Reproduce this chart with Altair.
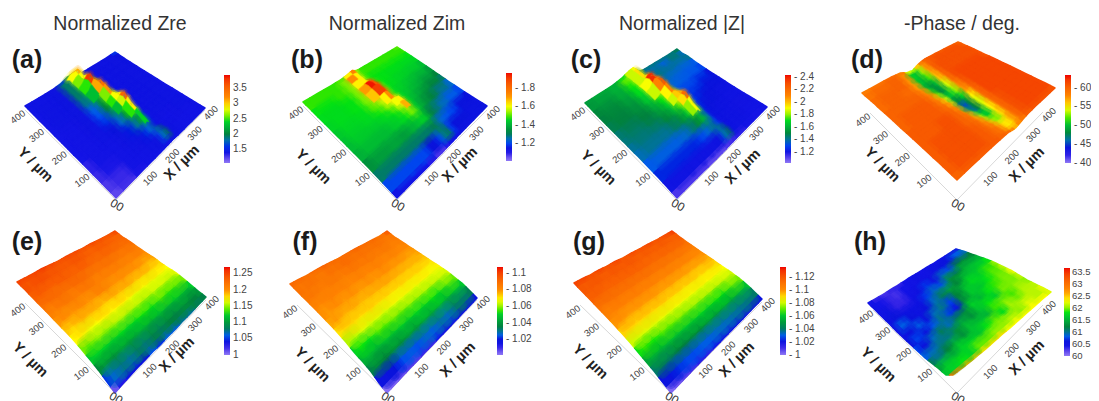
import altair as alt

X_A = [0,60,120,160,190,210,225,240,255,270,290,320,360,400]
Y_A = [400,375,350,320,290,250,225,200,170,120,80,40,0]
X_E = [0,33,67,100,133,167,200,233,267,300,333,367,400]
Y_E = [400,367,333,300,267,233,200,167,133,100,67,33,0]

Z_A = [
[1.42,1.42,1.45,1.6,1.95,2.0,1.7,1.5,1.42,1.42,1.45,1.45,1.48,1.6],
[1.42,1.42,1.5,1.9,2.85,3.1,1.7,1.45,1.42,1.42,1.42,1.42,1.45,1.55],
[1.4,1.42,1.5,1.9,2.6,2.85,1.8,1.45,1.42,1.42,1.42,1.42,1.45,1.5],
[1.4,1.42,1.5,1.9,2.5,3.75,2.5,1.45,1.42,1.42,1.42,1.42,1.45,1.48],
[1.4,1.42,1.48,1.85,2.3,3.1,3.4,1.5,1.42,1.42,1.42,1.42,1.44,1.46],
[1.38,1.4,1.46,1.7,2.1,2.6,3.15,2.3,1.45,1.42,1.42,1.42,1.42,1.44],
[1.38,1.4,1.45,1.65,2.0,2.5,2.85,2.9,1.5,1.42,1.42,1.42,1.42,1.44],
[1.36,1.38,1.42,1.6,1.85,2.3,2.75,3.5,1.6,1.42,1.42,1.42,1.42,1.42],
[1.35,1.38,1.42,1.55,1.75,2.1,2.5,2.9,1.55,1.42,1.42,1.42,1.42,1.42],
[1.32,1.36,1.4,1.48,1.58,1.8,2.1,2.4,1.6,1.42,1.42,1.42,1.42,1.42],
[1.3,1.34,1.38,1.42,1.48,1.58,1.7,1.8,1.5,1.42,1.4,1.4,1.42,1.42],
[1.26,1.3,1.36,1.4,1.42,1.45,1.5,1.7,1.95,1.5,1.42,1.4,1.4,1.42],
[1.22,1.28,1.34,1.36,1.38,1.4,1.42,1.42,1.45,1.42,1.4,1.4,1.4,1.42],
]
Z_B = [
[1.49,1.49,1.49,1.5,1.62,1.75,1.52,1.49,1.49,1.49,1.49,1.49,1.49,1.5],
[1.49,1.49,1.49,1.52,1.72,1.62,1.5,1.49,1.49,1.49,1.49,1.49,1.49,1.49],
[1.48,1.48,1.49,1.52,1.62,1.62,1.5,1.48,1.48,1.48,1.48,1.48,1.48,1.48],
[1.47,1.47,1.48,1.52,1.7,1.95,1.85,1.49,1.48,1.48,1.47,1.47,1.46,1.46],
[1.46,1.47,1.48,1.52,1.66,1.9,1.9,1.52,1.47,1.47,1.46,1.45,1.44,1.42],
[1.44,1.46,1.47,1.5,1.55,1.62,1.72,1.5,1.46,1.45,1.44,1.42,1.4,1.37],
[1.43,1.45,1.46,1.48,1.52,1.56,1.6,1.62,1.46,1.44,1.42,1.4,1.36,1.33],
[1.42,1.44,1.44,1.46,1.48,1.52,1.58,1.68,1.47,1.42,1.4,1.36,1.32,1.29],
[1.4,1.42,1.42,1.44,1.46,1.48,1.52,1.52,1.44,1.4,1.36,1.32,1.27,1.24],
[1.35,1.37,1.38,1.37,1.4,1.42,1.44,1.46,1.4,1.32,1.29,1.25,1.22,1.2],
[1.29,1.29,1.29,1.29,1.29,1.29,1.29,1.31,1.29,1.24,1.22,1.2,1.18,1.18],
[1.2,1.2,1.2,1.2,1.18,1.18,1.2,1.26,1.33,1.2,1.18,1.17,1.16,1.16],
[1.13,1.13,1.11,1.1,1.08,1.08,1.1,1.11,1.12,1.13,1.14,1.14,1.15,1.16],
]
Z_C = [
[1.55,1.58,1.6,1.7,1.85,1.9,1.6,1.45,1.42,1.42,1.42,1.42,1.42,1.45],
[1.54,1.56,1.6,1.75,1.85,1.95,1.55,1.4,1.4,1.38,1.4,1.35,1.42,1.38],
[1.5,1.52,1.58,1.72,1.85,1.95,1.6,1.4,1.36,1.42,1.4,1.4,1.38,1.4],
[1.48,1.5,1.55,1.7,1.9,2.38,2.0,1.45,1.38,1.38,1.36,1.35,1.34,1.33],
[1.46,1.48,1.52,1.65,1.85,2.1,2.25,1.45,1.36,1.35,1.34,1.33,1.32,1.3],
[1.43,1.45,1.48,1.58,1.72,1.92,2.1,1.75,1.35,1.32,1.3,1.3,1.28,1.27],
[1.42,1.43,1.46,1.54,1.66,1.85,1.98,2.02,1.35,1.3,1.29,1.28,1.27,1.26],
[1.4,1.42,1.43,1.5,1.6,1.75,1.95,2.2,1.45,1.3,1.28,1.26,1.25,1.24],
[1.38,1.4,1.4,1.44,1.52,1.65,1.8,1.9,1.4,1.28,1.26,1.25,1.23,1.22],
[1.33,1.34,1.34,1.36,1.42,1.5,1.58,1.65,1.35,1.25,1.24,1.22,1.2,1.2],
[1.28,1.28,1.28,1.28,1.3,1.34,1.38,1.42,1.32,1.23,1.22,1.2,1.19,1.19],
[1.2,1.2,1.2,1.2,1.2,1.22,1.24,1.36,1.45,1.25,1.2,1.2,1.18,1.18],
[1.12,1.12,1.12,1.1,1.1,1.1,1.12,1.13,1.14,1.15,1.15,1.16,1.16,1.17],
]
Z_D = [
[58.5,59,59.5,58.5,54,53,56,58.5,60,60.5,60.5,60.5,60.5,60],
[59,59.5,60,57.5,51,50,53,57,60,60.5,61,61,61,60.5],
[59.5,60,60,57,50.5,49.5,52,56.5,60,61,61,61,61,61],
[59.5,60,59.5,57,50,48,50,56,59.5,61,61,61,61,61],
[60,60,60,58,52,47.5,49,54,59,61,61.5,61.5,61.5,61],
[60,60.5,60.5,58.5,54,50,50.5,53,58,60.5,61.5,61.5,61.5,61.5],
[60,60.5,60.5,59,55,48.5,47.5,51,57,60,61.5,61.5,61.5,61.5],
[60.5,60.5,60.5,59.5,56,47,44.5,48,55,59.5,61.5,61.5,61.5,61.5],
[60.5,60.5,61,60,57,50,46,47.5,54,59.5,61.5,61.5,61.5,61.5],
[60.5,61,61,60,58.5,54,50.5,50.5,55,59.5,61,61.5,61.5,61.5],
[60.5,61,61,60.5,59,56.5,53,52.5,55.5,59.5,61,61.5,61.5,61.5],
[60.5,61,61,60.5,59.5,58,55.5,55,56.5,59.5,61,61.5,61.5,61.5],
[60,60.5,60.5,60.5,60,59.5,57.5,56.5,57.5,59,60.5,61,61,61],
]
Z_E = [
[1.25,1.25,1.25,1.255,1.25,1.245,1.25,1.25,1.245,1.25,1.245,1.245,1.25],
[1.245,1.24,1.245,1.24,1.24,1.235,1.24,1.24,1.23,1.235,1.235,1.23,1.23],
[1.23,1.235,1.225,1.23,1.235,1.225,1.23,1.225,1.22,1.225,1.22,1.22,1.225],
[1.22,1.22,1.225,1.215,1.22,1.225,1.215,1.21,1.22,1.215,1.21,1.215,1.21],
[1.21,1.205,1.215,1.21,1.205,1.215,1.205,1.21,1.2,1.21,1.2,1.205,1.2],
[1.195,1.2,1.195,1.205,1.195,1.2,1.21,1.195,1.2,1.195,1.2,1.19,1.195],
[1.185,1.18,1.19,1.185,1.19,1.18,1.19,1.185,1.19,1.18,1.185,1.18,1.18],
[1.17,1.175,1.165,1.17,1.175,1.17,1.175,1.17,1.165,1.17,1.165,1.17,1.17],
[1.145,1.14,1.15,1.145,1.15,1.155,1.15,1.155,1.15,1.155,1.16,1.155,1.165],
[1.12,1.125,1.125,1.12,1.13,1.125,1.13,1.135,1.13,1.14,1.135,1.14,1.145],
[1.09,1.1,1.095,1.105,1.1,1.105,1.11,1.105,1.115,1.11,1.12,1.115,1.125],
[1.05,1.065,1.075,1.07,1.08,1.075,1.085,1.08,1.09,1.085,1.095,1.09,1.1],
[1.01,1.025,1.035,1.045,1.045,1.055,1.05,1.06,1.06,1.07,1.07,1.08,1.085],
]
Z_F = [
[1.09,1.09,1.088,1.09,1.092,1.09,1.088,1.09,1.092,1.09,1.09,1.088,1.095],
[1.088,1.086,1.088,1.084,1.088,1.086,1.09,1.086,1.088,1.086,1.088,1.085,1.086],
[1.085,1.086,1.082,1.085,1.084,1.082,1.085,1.083,1.085,1.082,1.084,1.082,1.084],
[1.083,1.08,1.083,1.08,1.082,1.08,1.082,1.079,1.083,1.08,1.082,1.08,1.08],
[1.08,1.078,1.08,1.077,1.08,1.076,1.079,1.077,1.08,1.077,1.078,1.076,1.078],
[1.076,1.078,1.074,1.077,1.073,1.076,1.074,1.077,1.074,1.075,1.073,1.075,1.074],
[1.07,1.072,1.072,1.07,1.073,1.07,1.072,1.069,1.072,1.07,1.072,1.07,1.071],
[1.062,1.062,1.066,1.064,1.066,1.064,1.067,1.066,1.067,1.066,1.068,1.067,1.069],
[1.05,1.054,1.052,1.056,1.055,1.058,1.056,1.059,1.058,1.061,1.06,1.063,1.065],
[1.044,1.046,1.044,1.048,1.046,1.05,1.048,1.052,1.05,1.054,1.052,1.057,1.057],
[1.034,1.038,1.036,1.04,1.038,1.042,1.04,1.044,1.042,1.046,1.044,1.049,1.049],
[1.014,1.018,1.02,1.023,1.025,1.023,1.027,1.025,1.029,1.027,1.032,1.032,1.034],
[1.002,1.004,1.006,1.008,1.008,1.01,1.01,1.012,1.012,1.014,1.015,1.016,1.018],
]
Z_G = [
[1.125,1.125,1.122,1.125,1.122,1.125,1.12,1.124,1.122,1.125,1.122,1.125,1.128],
[1.12,1.118,1.12,1.116,1.12,1.117,1.12,1.116,1.118,1.116,1.118,1.116,1.118],
[1.115,1.116,1.112,1.115,1.112,1.115,1.112,1.114,1.11,1.113,1.11,1.112,1.11],
[1.11,1.108,1.11,1.107,1.11,1.106,1.109,1.106,1.108,1.105,1.107,1.104,1.105],
[1.105,1.103,1.104,1.102,1.104,1.101,1.103,1.1,1.103,1.1,1.102,1.1,1.1],
[1.098,1.099,1.096,1.098,1.096,1.098,1.095,1.097,1.095,1.097,1.094,1.096,1.095],
[1.09,1.091,1.089,1.091,1.089,1.091,1.089,1.09,1.088,1.09,1.088,1.09,1.09],
[1.08,1.08,1.082,1.081,1.083,1.082,1.084,1.083,1.084,1.083,1.085,1.084,1.085],
[1.066,1.068,1.067,1.07,1.069,1.072,1.071,1.074,1.073,1.076,1.075,1.079,1.08],
[1.052,1.055,1.054,1.058,1.057,1.061,1.06,1.064,1.062,1.067,1.065,1.071,1.072],
[1.039,1.041,1.04,1.044,1.043,1.047,1.046,1.051,1.049,1.054,1.052,1.058,1.059],
[1.02,1.023,1.025,1.027,1.027,1.03,1.03,1.033,1.033,1.035,1.036,1.038,1.04],
[1.002,1.005,1.008,1.01,1.012,1.012,1.014,1.015,1.016,1.017,1.018,1.02,1.022],
]
Z_H = [
[60.35,60.3,60.25,60.3,60.3,60.35,60.4,60.35,60.4,60.35,60.4,60.45,60.5],
[60.4,60.35,60.3,60.25,60.35,60.4,60.45,60.4,60.5,60.55,60.6,60.8,60.9],
[60.4,60.5,60.3,60.3,60.4,60.5,60.7,60.5,60.9,60.8,61.2,61.2,61.2],
[60.45,60.6,60.5,60.45,60.5,60.7,60.9,60.8,61.3,61.2,61.5,61.5,61.5],
[60.4,60.8,60.6,60.5,60.6,60.9,61.1,61.4,61.2,61.6,61.6,61.7,61.8],
[60.5,60.6,60.8,60.6,60.9,61.0,60.7,61.2,61.6,61.75,61.7,61.85,62.0],
[60.6,60.7,60.6,60.8,61.0,60.7,60.6,61.3,61.65,61.6,61.8,61.9,62.1],
[60.7,60.6,60.9,61.1,60.9,61.1,61.3,61.7,61.5,61.8,61.85,61.95,62.2],
[60.8,60.9,61.0,61.0,61.3,61.5,61.3,61.6,61.8,61.65,61.95,61.95,62.1],
[61.1,61.0,61.2,61.5,61.3,61.6,61.6,61.5,61.85,61.95,61.85,62.05,62.0],
[61.4,61.6,61.5,61.7,61.7,61.6,61.8,61.9,61.75,62.05,61.95,62.1,62.1],
[61.6,61.7,61.8,61.7,61.9,61.9,62.0,62.0,62.1,62.0,62.2,62.1,62.2],
[63.0,62.8,62.6,62.5,62.4,62.4,62.4,62.3,62.3,62.3,62.3,62.3,62.2],
]

TITLES = [("Normalized Zre",120),("Normalized Zim",397),("Normalized |Z|",682),("-Phase / deg.",962)]
STOPS = [0,.1,.18,.33,.5,.63,.74,1]
COLORS = ["#8f78f5","#1414e6","#0a14dc","#00823c","#0ce60c","#ffff00","#ff8c00","#f00000"]
AXIS_LABELS = ["100","200","300","400"]

# blur: list of (stroke opacity, stroke width, reversed order); top: readings from here up are redrawn crisp
PANELS = [
 dict(t="(a)",tp=(27,60),z=Z_A,xs=X_A,ys=Y_A,c=[(25,106),(116,198),(205,108),(115,52)],k=8,blur=[(.2,8,False),(.25,5,False)],top=2.3,
      ax=[(25,110),(116,200),(205,110)],bar=(224,75,1.06,3.92),ticks=[1.5,2,2.5,3,3.5],dash=False,lt=(35,165),rt=(182,163)),
 dict(t="(b)",tp=(307,60),z=Z_B,xs=X_A,ys=Y_A,c=[(303,102),(397,198),(487,106),(397,47)],k=10,blur=[(.2,8,False),(.25,5,False)],top=1.6,
      ax=[(303,106),(397,200),(487,110)],bar=(506,73,1.01,1.96),ticks=[1.2,1.4,1.6,1.8],dash=True,lt=(313,167),rt=(460,165)),
 dict(t="(c)",tp=(586,60),z=Z_C,xs=X_A,ys=Y_A,c=[(585,103),(677,198),(767,107),(677,49)],k=17,blur=[(.2,8,False),(.25,5,False)],top=1.8,
      ax=[(585,107),(677,200),(767,110)],bar=(785,75,1.02,2.43),ticks=[1.2,1.4,1.6,1.8,2,2.2,2.4],dash=True,lt=(598,168),rt=(743,167)),
 dict(t="(d)",tp=(867,60),z=Z_D,xs=X_A,ys=Y_A,c=[(862,93),(957,180),(1055,88),(958,42)],k=.7,blur=[(.2,6,False),(.25,4,False)],top=99,
      ax=[(870,113),(957,200),(1043,112)],bar=(1065,75,39.9,63.4),ticks=[40,45,50,55,60],dash=True,lt=(882,165),rt=(1027,165)),
 dict(t="(e)",tp=(27,242),z=Z_E,xs=X_E,ys=Y_E,c=[(17,282),(115,393),(206,297),(115,231)],k=100,blur=[(.22,10,False),(.28,6,False),(.15,10,True)],top=99,
      ax=[(25,303),(115,393),(206,300)],bar=(224,267,.999,1.27),ticks=[1,1.05,1.1,1.15,1.2,1.25],dash=False,lt=(30,360),rt=(177,355)),
 dict(t="(f)",tp=(305,242),z=Z_F,xs=X_E,ys=Y_E,c=[(290,284),(387,393),(477,298),(387,231)],k=200,blur=[(.22,10,False),(.28,6,False),(.15,10,True)],top=99,
      ax=[(297,305),(387,393),(477,300)],bar=(497,267,1.001,1.107),ticks=[1.02,1.04,1.06,1.08,1.1],dash=True,lt=(312,365),rt=(458,360)),
 dict(t="(g)",tp=(589,242),z=Z_G,xs=X_E,ys=Y_E,c=[(574,283),(671,393),(762,299),(672,231)],k=150,blur=[(.22,10,False),(.28,6,False),(.15,10,True)],top=99,
      ax=[(580,305),(671,393),(762,302)],bar=(780,267,.9995,1.135),ticks=[1,1.02,1.04,1.06,1.08,1.1,1.12],dash=True,lt=(590,362),rt=(737,360)),
 dict(t="(h)",tp=(870,242),z=Z_H,xs=X_E,ys=Y_E,c=[(868,303),(953,375),(1051,292),(956,249)],k=5,blur=[(.2,8,False),(.25,5,False)],top=99,
      ax=[(873,310),(957,393),(1043,305)],bar=(1064,268,59.98,63.65),ticks=[60,60.5,61,61.5,62,62.5,63,63.5],dash=False,lt=(878,365),rt=(1027,358),lab=(9.5,2)),
]
OFF = 8

def node_points(p):
    L,B,R,T = p["c"]
    z = p["z"]; xs = p["xs"]; ys = p["ys"]
    zB, zR, zL, zT = z[-1][0], z[-1][-1], z[0][0], z[0][-1]
    pts = []
    for r,yv in enumerate(ys):
        row = []
        for c,xv in enumerate(xs):
            a = xv/400; b = yv/400
            w = [(1-a)*(1-b), a*(1-b), (1-a)*b, a*b]
            px = w[0]*B[0]+w[1]*R[0]+w[2]*L[0]+w[3]*T[0]
            py = w[0]*B[1]+w[1]*R[1]+w[2]*L[1]+w[3]*T[1]
            plane = w[0]*zB+w[1]*zR+w[2]*zL+w[3]*zT
            py -= p["k"]*(z[r][c]-plane)
            row.append((px-OFF,py-OFF))
        pts.append(row)
    return pts

def mean(*q):
    return (round(sum(a[0] for a in q)/len(q),2),round(sum(a[1] for a in q)/len(q),2))

def node_quads(pts,r,c):
    nr,nc = len(pts),len(pts[0]); n = pts[r][c]; quads = []
    for dr in (-1,1):
        for dc in (-1,1):
            rr,cc = r+dr,c+dc
            if not(0<=rr<nr and 0<=cc<nc):
                continue
            e1 = mean(n,pts[rr][c]); e2 = mean(n,pts[r][cc]); m = mean(n,pts[rr][c],pts[r][cc],pts[rr][cc])
            np_ = mean(n)
            quads.append([[np_,e1,m,e2,np_]])
    return quads

def surface_layer(p):
    pts = node_points(p); z = p["z"]
    nr,nc = len(z),len(z[0])
    base = []
    for r in range(nr):
        for c in range(nc):
            base.append({"type":"Feature","geometry":{"type":"MultiPolygon","coordinates":node_quads(pts,r,c)},
                         "properties":{"v":z[r][c]},"o":r-c,"inner":0<r<nr-1 and 0<c<nc-1})
    base.sort(key=lambda d:d["o"])
    def with_style(f,fo,so,sw):
        g = dict(f); g["properties"] = dict(f["properties"],fo=fo,so=so,sw=sw); return g
    cells = [with_style(f,1,1,1.5) for f in base]
    inner = [f for f in base if f["inner"]]
    for so,sw,rev in p["blur"]:
        cells += [with_style(f,0,so,sw) for f in (reversed(inner) if rev else inner)]
    cells += [with_style(f,1,.7,1.5) for f in base if f["properties"]["v"]>=p["top"]]
    bx,by,lo,hi = p["bar"]
    dom = [lo+s*(hi-lo) for s in STOPS]
    dom2 = dom[:-1]+[hi+1e-7]
    prefix = "'- '+" if p["dash"] else "''+"
    size,offset = p.get("lab",(10,3))
    legend = alt.Legend(type="gradient",orient="none",legendX=bx-OFF,legendY=by-OFF,title=None,gradientLength=88,gradientThickness=6,
                        values=p["ticks"],labelFontSize=size,labelColor="#444",labelFont="Liberation Sans",labelOffset=offset,
                        padding=0,gradientStrokeWidth=0,labelOverlap=False,
                        labelExpr=prefix+"datum.value")
    return alt.Chart(alt.Data(values=cells)).mark_geoshape(strokeJoin="round").encode(
        color=alt.Color("properties.v:Q",scale=alt.Scale(domain=dom,range=COLORS,clamp=True),legend=legend),
        stroke=alt.Stroke("properties.v:Q",scale=alt.Scale(domain=dom2,range=COLORS,clamp=True),legend=None),
        fillOpacity=alt.FillOpacity("properties.fo:Q",scale=None),
        strokeOpacity=alt.StrokeOpacity("properties.so:Q",scale=None),
        strokeWidth=alt.StrokeWidth("properties.sw:Q",scale=None),
    ).project(type="identity",scale=1,translate=[0,0],reflectY=False)

def text_rows():
    ticks=[];zeros=[];atitles=[];letters=[];frame=[]
    for p in PANELS:
        L,O,R = p["ax"]
        for i,lab in enumerate(AXIS_LABELS):
            f=(i+1)/4
            dx,dy = (-11,3) if i<3 else (-7,7)
            ticks.append(dict(x=O[0]+f*(L[0]-O[0])+dx-OFF,y=O[1]+f*(L[1]-O[1])+dy-OFF,s=lab,a=322))
            ticks.append(dict(x=O[0]+f*(R[0]-O[0])+(12 if i<3 else 6)-OFF,y=O[1]+f*(R[1]-O[1])+(1 if i<3 else 3)-OFF,s=lab,a=315))
        zeros.append(dict(x=O[0]+1-OFF,y=O[1]+5-OFF,s="00",a=30))
        atitles.append(dict(x=p["lt"][0]-OFF,y=p["lt"][1]-OFF,s="Y / µm",a=45))
        atitles.append(dict(x=p["rt"][0]-OFF,y=p["rt"][1]-OFF,s="X / µm",a=315))
        letters.append(dict(x=p["tp"][0]-OFF,y=p["tp"][1]-OFF,s=p["t"],a=0))
        frame.append(dict(x=L[0]-OFF,y=L[1]-OFF,x2=O[0]-OFF,y2=O[1]-OFF))
        frame.append(dict(x=O[0]-OFF,y=O[1]-OFF,x2=R[0]-OFF,y2=R[1]-OFF))
    return ticks,zeros,atitles,letters,frame

ticks,zeros,atitles,letters,frame = text_rows()
titles = [dict(x=x-OFF,y=24-OFF,s=s,a=0) for s,x in TITLES]

XS = alt.Scale(domain=[0,1083]); YS = alt.Scale(domain=[393,0])
def text_layer(rows,size,color,weight="normal"):
    return alt.Chart(alt.Data(values=rows)).mark_text(font="Liberation Sans",fontSize=size,color=color,fontWeight=weight,
        align="center",baseline="middle").encode(
        x=alt.X("x:Q",scale=XS,axis=None),y=alt.Y("y:Q",scale=YS,axis=None),text="s:N",angle=alt.Angle("a:Q",scale=None))

frame_layer = alt.Chart(alt.Data(values=frame)).mark_rule(color="#d8d8d8",strokeWidth=1).encode(
    x=alt.X("x:Q",scale=XS,axis=None),y=alt.Y("y:Q",scale=YS,axis=None),x2="x2:Q",y2="y2:Q")

layers = [frame_layer]+[surface_layer(p) for p in PANELS]+[
    text_layer(ticks,9.5,"#444"),text_layer(zeros,12,"#333"),
    text_layer(atitles,14.5,"#222","bold"),text_layer(letters,25,"#1a1a1a","bold"),text_layer(titles,19.5,"#333")]

chart = alt.layer(*layers).resolve_scale(color="independent",stroke="independent").properties(
    width=1083,height=393,padding=0,autosize=alt.AutoSizeParams(type="none"),background="white"
).configure_view(stroke=None)

chart.save("out.html",embed_options={"renderer":"svg","actions":False})
